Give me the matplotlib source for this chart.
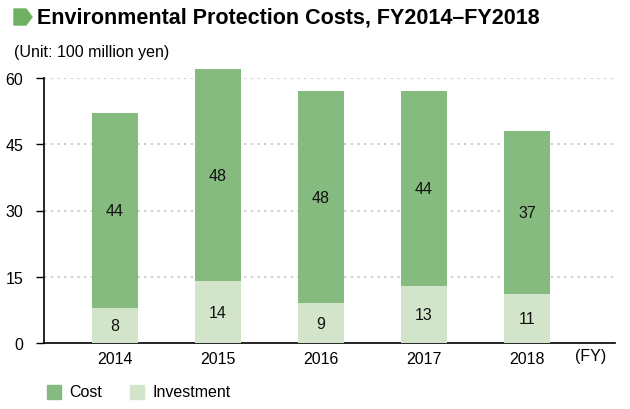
import matplotlib.pyplot as plt
from matplotlib.patches import Polygon, Rectangle
import numpy as np

plt.rcParams['font.family'] = ['Liberation Sans', 'DejaVu Sans']

years = ['2014', '2015', '2016', '2017', '2018']
investment = [8, 14, 9, 13, 11]
cost = [44, 48, 48, 44, 37]
yticks = [0, 15, 30, 45, 60]

cost_color = '#85bb7e'
inv_color = '#d2e4ca'

fig = plt.figure(figsize=(6.3, 4.1), dpi=100)
ax = fig.add_axes([44/630, 66/410, (615-44)/630, (344-79)/410])

x = np.arange(len(years))
w = 0.45
ax.bar(x, investment, w, color=inv_color, zorder=3, clip_on=False)
ax.bar(x, cost, w, bottom=investment, color=cost_color, zorder=3, clip_on=False)

for i in range(len(years)):
    ax.text(x[i], investment[i] / 2, str(investment[i]), ha='center', va='center',
            fontsize=11.5, color='#111111', zorder=4)
    ax.text(x[i], investment[i] + cost[i] / 2, str(cost[i]), ha='center', va='center',
            fontsize=11.5, color='#111111', zorder=4)

ax.set_xlim(-0.69, 4.854)
ax.set_ylim(0, 60)
ax.set_yticks(yticks)
ax.set_yticklabels([str(v) for v in yticks], fontsize=11.5)
ax.set_xticks(x)
ax.set_xticklabels(years, fontsize=11.5)
ax.tick_params(axis='x', length=0, pad=6)
ax.tick_params(axis='y', length=6, direction='out', pad=9, width=1)
for v in yticks[1:]:
    ax.axhline(v, color='#c8c8c8', linestyle=(0, (1.5, 2.5)), linewidth=1.2, zorder=1)
for s in ['top', 'right']:
    ax.spines[s].set_visible(False)
ax.spines['left'].set_linewidth(1.2)
ax.spines['bottom'].set_linewidth(1.2)
ax.text(4.466, -0.049, '(FY)', transform=ax.get_xaxis_transform(), ha='left',
        va='center', fontsize=11.5)

# title with arrow-like icon
icon = Polygon([[14/630, 1-10/410], [26/630, 1-10/410], [32/630, 1-18/410],
                [26/630, 1-26/410], [14/630, 1-26/410]], closed=True,
               transform=fig.transFigure, color='#6fb163')
fig.patches.append(icon)
fig.text(37/630, 1-18/410, 'Environmental Protection Costs, FY2014\u2013FY2018',
         fontsize=15.5, fontweight='bold', va='center', ha='left')
fig.text(14/630, 1-52/410, '(Unit: 100 million yen)', fontsize=11.5,
         va='center', ha='left')

# legend
fig.patches.append(Rectangle((47/630, 1-400/410), 14/630, 14/410,
                             transform=fig.transFigure, color=cost_color))
fig.text(69/630, 1-393/410, 'Cost', fontsize=11.5, va='center', ha='left')
fig.patches.append(Rectangle((130/630, 1-400/410), 14/630, 14/410,
                             transform=fig.transFigure, color=inv_color))
fig.text(152/630, 1-393/410, 'Investment', fontsize=11.5, va='center', ha='left')

fig.savefig('out.png', dpi=100)
